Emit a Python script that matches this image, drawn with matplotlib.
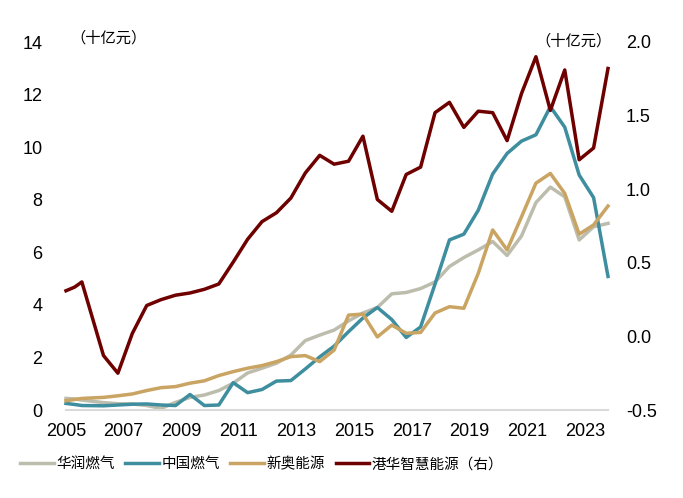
import matplotlib
matplotlib.use("Agg")
import matplotlib.pyplot as plt
from matplotlib.ticker import FormatStrFormatter

plt.rcParams['font.family'] = ['Liberation Sans', 'Noto Sans CJK SC', 'DejaVu Sans']
plt.rcParams['axes.unicode_minus'] = False

# reporting periods (fractional years)
periods = [2005.0, 2005.3, 2005.55, 2006.3, 2006.8, 2007.3, 2007.8, 2008.3, 2008.8,
           2009.3, 2009.8, 2010.3, 2010.8, 2011.3, 2011.8, 2012.3, 2012.8, 2013.3,
           2013.8, 2014.3, 2014.8, 2015.3, 2015.8, 2016.3, 2016.8, 2017.3, 2017.8,
           2018.3, 2018.8, 2019.3, 2019.8, 2020.3, 2020.8, 2021.3, 2021.8, 2022.3,
           2022.8, 2023.3, 2023.8]

# 十亿元, left axis
cr_gas = [0.44, 0.42, 0.38, 0.28, 0.24, 0.23, 0.17, 0.06, 0.29, 0.48, 0.57, 0.74, 1.02,
          1.41, 1.59, 1.78, 2.09, 2.64, 2.85, 3.04, 3.39, 3.69, 3.90, 4.42, 4.47, 4.62,
          4.87, 5.46, 5.80, 6.09, 6.41, 5.88, 6.62, 7.89, 8.48, 8.11, 6.47, 6.97, 7.10]
china_gas = [0.25, 0.21, 0.17, 0.16, 0.19, 0.22, 0.23, 0.19, 0.17, 0.59, 0.17, 0.19, 1.04,
             0.66, 0.78, 1.10, 1.12, 1.56, 2.02, 2.43, 2.98, 3.50, 3.90, 3.44, 2.76, 3.16,
             4.79, 6.47, 6.69, 7.60, 8.98, 9.76, 10.23, 10.47, 11.54, 10.76, 8.94, 8.08, 5.08]
enn = [0.35, 0.40, 0.44, 0.48, 0.54, 0.61, 0.74, 0.85, 0.89, 1.02, 1.11, 1.31, 1.46,
       1.59, 1.69, 1.84, 2.03, 2.07, 1.84, 2.28, 3.61, 3.65, 2.78, 3.23, 2.92, 2.95,
       3.69, 3.93, 3.87, 5.20, 6.85, 6.09, 7.35, 8.63, 9.00, 8.24, 6.69, 7.04, 7.76]
# 十亿元, right axis
towngas = [0.31, 0.335, 0.37, -0.13, -0.25, 0.02, 0.21, 0.25, 0.28, 0.295, 0.32, 0.356,
           0.505, 0.66, 0.78, 0.84, 0.94, 1.11, 1.23, 1.17, 1.19, 1.36, 0.93, 0.85, 1.10,
           1.15, 1.52, 1.59, 1.42, 1.53, 1.52, 1.33, 1.65, 1.90, 1.535, 1.81, 1.20, 1.28, 1.82]

names = ['华润燃气', '中国燃气', '新奥能源', '港华智慧能源（右）']
colors = ['#BDBDAE', '#3E8E9F', '#C9A462', '#6E0000']

fig = plt.figure(figsize=(6.83, 4.98), dpi=100)
ax = fig.add_axes([66 / 683, 88 / 498, 542 / 683, 368 / 498])
ax2 = ax.twinx()

lw = 2.5
h1, = ax.plot(periods, cr_gas, color=colors[0], lw=lw, label=names[0], clip_on=False)
h2, = ax.plot(periods, china_gas, color=colors[1], lw=lw, label=names[1], clip_on=False)
h3, = ax.plot(periods, enn, color=colors[2], lw=lw, label=names[2], clip_on=False)
h4, = ax2.plot(periods, towngas, color=colors[3], lw=lw, label=names[3], clip_on=False)

ax.set_xlim(2005, 2023.8)
ax.set_ylim(0, 14)
ax2.set_ylim(-0.5, 2.0)
ax.set_yticks(range(0, 15, 2))
ax2.set_yticks([-0.5, 0.0, 0.5, 1.0, 1.5, 2.0])
ax2.yaxis.set_major_formatter(FormatStrFormatter('%.1f'))
ax.set_xticks(range(2005, 2024, 2))

for a in (ax, ax2):
    for s in a.spines.values():
        s.set_visible(False)
    a.tick_params(length=0, labelsize=13)
ax.spines['bottom'].set_visible(True)
ax.spines['bottom'].set_color('#D9D9D9')
ax.spines['bottom'].set_linewidth(1.5)
ax.tick_params(axis='y', pad=17)
ax.tick_params(axis='x', pad=9)
ax2.tick_params(axis='y', pad=13)

fig.text(70 / 683, 1 - 38 / 498, '（十亿元）', fontsize=11, ha='left', va='center',
         family=['Noto Sans CJK SC'])
fig.text(612 / 683, 1 - 41 / 498, '（十亿元）', fontsize=11, ha='right', va='center',
         family=['Noto Sans CJK SC'])

fig.legend(handles=[h1, h2, h3, h4], loc='center left',
           bbox_to_anchor=(20 / 683, 1 - 464 / 498), ncol=4, frameon=False,
           prop={'family': ['Noto Sans CJK SC'], 'size': 10.5},
           handlelength=2.3, handletextpad=0.2, columnspacing=0.7,
           borderpad=0, borderaxespad=0)

fig.savefig('out.png', dpi=100)
